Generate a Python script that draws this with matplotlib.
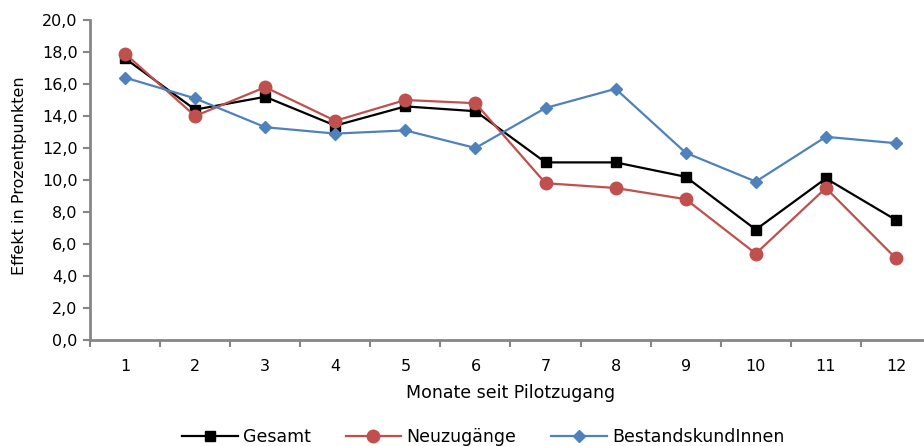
import numpy as np
import matplotlib.pyplot as plt

plt.rcParams['font.family'] = ['DejaVu Sans']

# data
monate = np.arange(1, 13)
gesamt = [17.6, 14.4, 15.2, 13.4, 14.6, 14.3, 11.1, 11.1, 10.2, 6.9, 10.1, 7.5]
neuzugaenge = [17.9, 14.0, 15.8, 13.7, 15.0, 14.8, 9.8, 9.5, 8.8, 5.4, 9.5, 5.1]
bestand = [16.4, 15.1, 13.3, 12.9, 13.1, 12.0, 14.5, 15.7, 11.7, 9.9, 12.7, 12.3]

fig = plt.figure(figsize=(9.24, 4.46), dpi=100)
ax = fig.add_axes([90 / 924, 106 / 446, 841 / 924, 320 / 446])

ax.plot(monate, gesamt, color='black', lw=1.6, marker='s', ms=7,
        label='Gesamt')
ax.plot(monate, neuzugaenge, color='#C0504D', lw=1.6, marker='o', ms=9,
        label='Neuzugänge')
ax.plot(monate, bestand, color='#4F81BD', lw=1.6, marker='D', ms=6.5,
        label='BestandskundInnen')

ax.set_xlim(0.5, 12.5)
ax.set_ylim(0, 20)
ax.set_yticks(np.arange(0, 21, 2))
ax.set_yticklabels([f"{v:.1f}".replace('.', ',') for v in np.arange(0, 21, 2)])
ax.set_xticks(monate)
ax.set_xticklabels([str(m) for m in monate])
ax.set_xticks(np.arange(0.5, 13, 1), minor=True)
ax.tick_params(axis='x', which='major', length=0, pad=14, labelsize=11.5)
ax.tick_params(axis='x', which='minor', length=5, width=1.5, color='#868686')
ax.tick_params(axis='y', length=5, width=1.5, color='#868686', labelsize=11.5,
               pad=4)

for side in ['top', 'right']:
    ax.spines[side].set_visible(False)
for side in ['left', 'bottom']:
    ax.spines[side].set_color('#868686')
    ax.spines[side].set_linewidth(2)

ax.set_xlabel('Monate seit Pilotzugang', fontsize=12.5, labelpad=7)
ax.set_ylabel('Effekt in Prozentpunkten', fontsize=11.5)
ax.yaxis.set_label_coords(-0.075, 0.515)

fig.legend(loc='center', bbox_to_anchor=(0.523, 9 / 446), ncol=3,
           frameon=False, fontsize=12.5, handlelength=3.2, columnspacing=2.0,
           handletextpad=0.3)

fig.savefig('out.png', dpi=100)
